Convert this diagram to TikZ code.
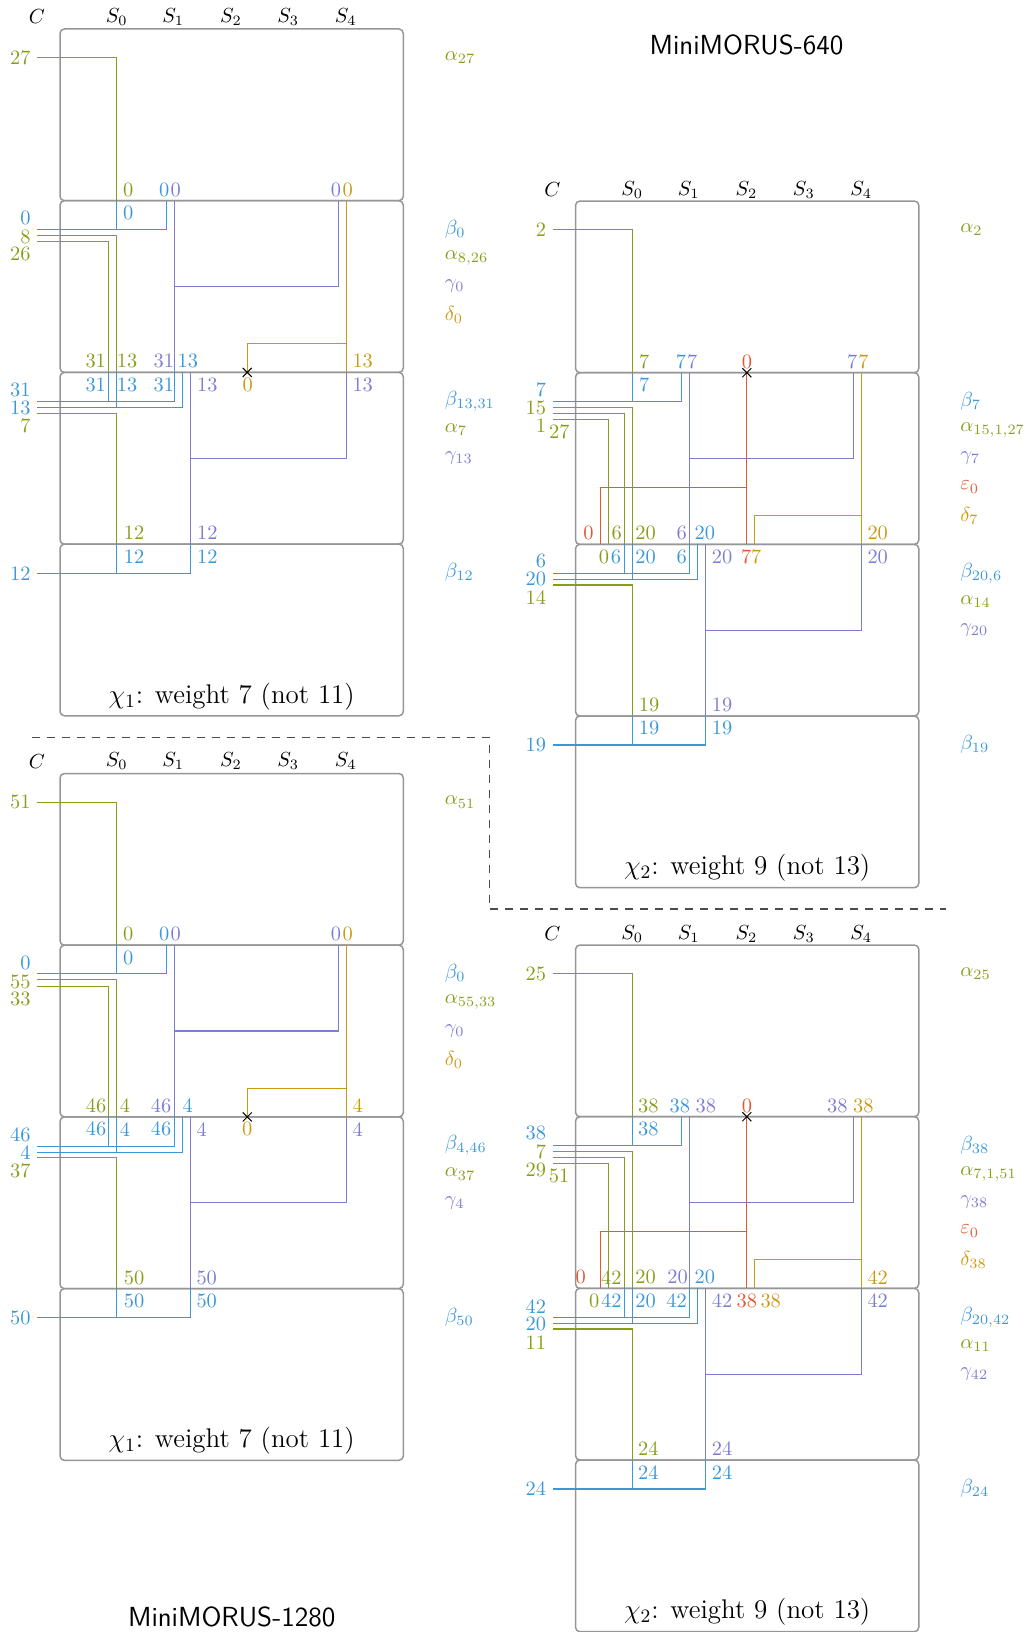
\RequirePackage{fix-cm}
\documentclass[tikz,border=0pt]{standalone}
\usepackage{fontspec}
\definecolor{ol}{RGB}{138,157,27}
\definecolor{bl}{RGB}{58,152,216}
\definecolor{pu}{RGB}{125,125,210}
\definecolor{go}{RGB}{204,153,20}
\definecolor{rd}{RGB}{224,90,50}
\definecolor{bx}{RGB}{150,150,150}
\newcommand{\TxC}[4]{\node[lab,text=#1] at (#2,#3) {#4};}
\newcommand{\TxE}[4]{\node[lab,text=#1,anchor=east] at (#2,#3) {#4};}
\newcommand{\TxW}[4]{\node[lab,text=#1,anchor=west] at (#2,#3) {#4};}
\newcommand{\LeftFrame}{%
  \foreach \yy in {29,200.7,372.4,544.1}{\draw[bxs] (60,\yy) rectangle (403.3,\yy+171.7);}
  \node[hdr] at (37,16.7) {$C$};
  \foreach \i/\xx in {0/116.7,1/173.3,2/231,3/288.3,4/345.7}{\node[hdr] at (\xx,16.7) {$S_{\i}$};}
  \draw[wire,ol] (37,57.6) -| (116.7,200.7);
  \draw[wire,ol] (37,235.3) -| (116.7,372.4);
  \draw[wire,ol] (37,241.7) -| (108.7,372.4);
  \draw[wire,ol] (37,413.3) -| (116.7,544.1);
  \draw[wire,bl] (116.7,200.7) -- (116.7,229.3) (166.3,200.7) |- (37,229.3);
  \draw[wire,bl] (108.7,372.4) -- (108.7,401.7) (174.3,372.4) |- (37,401.7);
  \draw[wire,bl] (116.7,372.4) -- (116.7,407.7) (182.3,372.4) |- (37,407.7);
  \draw[wire,bl] (116.7,544.1) -- (116.7,573.3) (190.3,544.1) |- (37,573.3);
  \draw[wire,pu] (174.3,200.7) -- (174.3,372.4) (174.3,286.5) -| (338.3,200.7);
  \draw[wire,pu] (190.3,372.4) -- (190.3,544.1) (190.3,458.2) -| (346.3,372.4);
  \draw[wire,go] (346.3,200.7) -- (346.3,372.4) (346.3,343.7) -| (247.3,372.4);
  \draw[crs] (242.8,367.9) -- (251.8,376.9) (242.8,376.9) -- (251.8,367.9);
}
\newcommand{\RightFrame}{%
  \foreach \yy in {201,372.7,544.3,716}{\draw[bxs] (575.5,\yy) rectangle (918.8,\yy+171.7);}
  \node[hdr] at (552.5,190) {$C$};
  \foreach \i/\xx in {0/632.2,1/688.8,2/746.5,3/803.8,4/861.2}{\node[hdr] at (\xx,190) {$S_{\i}$};}
  \draw[wire,ol] (552.5,229.6) -| (632.2,372.7);
  \draw[wire,ol] (552.5,407.3) -| (632.2,544.3);
  \draw[wire,ol] (552.5,413.3) -| (624.2,544.3);
  \draw[wire,ol] (552.5,419.3) -| (608.2,544.3);
  \draw[wire,ol] (552.5,585) -| (632.2,716);
  \draw[wire,bl] (632.2,372.7) -- (632.2,401.3) (681.8,372.7) |- (552.5,401.3);
  \draw[wire,bl] (624.2,544.3) -- (624.2,573.3) (689.8,544.3) |- (552.5,573.3);
  \draw[wire,bl] (632.2,544.3) -- (632.2,579.3) (697.8,544.3) |- (552.5,579.3);
  \draw[wire,bl] (632.2,716) -- (632.2,745) (705.8,716) |- (552.5,745);
  \draw[wire,pu] (689.8,372.7) -- (689.8,544.3) (689.8,458.5) -| (853.8,372.7);
  \draw[wire,pu] (705.8,544.3) -- (705.8,716) (705.8,630.1) -| (861.8,544.3);
  \draw[wire,rd] (746.8,372.7) -- (746.8,544.3) (746.8,487.1) -| (600.2,544.3);
  \draw[wire,go] (861.8,372.7) -- (861.8,544.3) (861.8,515.7) -| (754.8,544.3);
  \draw[crs] (742.3,368.2) -- (751.3,377.2) (742.3,377.2) -- (751.3,368.2);
}
\begin{document}
\begin{tikzpicture}[x=0.5pt,y=-0.5pt,
  wire/.style={line width=0.55pt},
  bxs/.style={draw=bx,line width=0.75pt,rounded corners=2.2pt},
  lab/.style={inner sep=0pt,font=\fontsize{10.2}{12}\selectfont},
  hdr/.style={inner sep=0pt,font=\fontsize{10.2}{12}\selectfont},
  captxt/.style={inner sep=0pt,anchor=base,font=\fontsize{13.5}{16}\selectfont},
  ttl/.style={inner sep=0pt,anchor=base,font=\sffamily\fontsize{13.8}{16}\selectfont},
  crs/.style={line width=0.5pt,draw=black},
  sep/.style={line width=0.55pt,draw=black!70,dash pattern=on 4pt off 3.5pt}]
\useasboundingbox (0,0) rectangle (1036,1632);

% titles and separator
\node[ttl] (t640) at (746.5,55) {MiniMORUS-640};
\node[ttl] (t1280) at (231.7,1626.7) {MiniMORUS-1280};
\draw[sep] (31.7,737.3) -- (489.3,737.3) -- (489.3,909) -- (946,909);

% ================= Panel A (top left) =================
\LeftFrame
\TxE{ol}{31}{57.8}{27}
\TxW{ol}{444.5}{57.6}{$\alpha_{27}$}
\TxC{ol}{128.3}{189.7}{0}
\TxC{bl}{164.3}{189.7}{0}
\TxC{pu}{175.7}{189.7}{0}
\TxC{pu}{336}{189.7}{0}
\TxC{go}{347.7}{189.7}{0}
\TxC{bl}{128.3}{213}{0}
\TxE{bl}{31}{218.3}{0}
\TxE{ol}{31}{237}{8}
\TxE{ol}{31}{254.2}{26}
\TxW{bl}{444.5}{229.3}{$\beta_{0}$}
\TxW{ol}{444.5}{257.9}{$\alpha_{8,26}$}
\TxW{pu}{444.5}{286.5}{$\gamma_{0}$}
\TxW{go}{444.5}{315.1}{$\delta_{0}$}
\TxC{ol}{95.7}{361.4}{31}
\TxC{ol}{127}{361.4}{13}
\TxC{pu}{163.8}{361.4}{31}
\TxC{bl}{187.8}{361.4}{13}
\TxC{go}{362.7}{361.4}{13}
\TxC{bl}{95.7}{384.7}{31}
\TxC{bl}{127}{384.7}{13}
\TxC{bl}{163.8}{384.7}{31}
\TxC{pu}{207.3}{384.7}{13}
\TxC{go}{247.7}{384.7}{0}
\TxC{pu}{362.7}{384.7}{13}
\TxE{bl}{31}{390.3}{31}
\TxE{bl}{31}{407.8}{13}
\TxE{ol}{31}{426.2}{7}
\TxW{bl}{444.5}{401}{$\beta_{13,31}$}
\TxW{ol}{444.5}{429.6}{$\alpha_{7}$}
\TxW{pu}{444.5}{458.2}{$\gamma_{13}$}
\TxC{ol}{134}{533.1}{12}
\TxC{pu}{207.3}{533.1}{12}
\TxC{bl}{134}{556.4}{12}
\TxC{bl}{207.3}{556.4}{12}
\TxE{bl}{31}{573.3}{12}
\TxW{bl}{444.5}{572.7}{$\beta_{12}$}
\node[captxt] (capA) at (231.7,703) {$\chi_1$: weight 7 (not 11)};

% ================= Panel B (bottom left) =================
\begin{scope}[shift={(0,744.5)}]
\LeftFrame
\TxE{ol}{31}{57.8}{51}
\TxW{ol}{444.5}{57.6}{$\alpha_{51}$}
\TxC{ol}{128.3}{189.7}{0}
\TxC{bl}{164.3}{189.7}{0}
\TxC{pu}{175.7}{189.7}{0}
\TxC{pu}{336}{189.7}{0}
\TxC{go}{347.7}{189.7}{0}
\TxC{bl}{128.3}{213}{0}
\TxE{bl}{31}{218.3}{0}
\TxE{ol}{31}{237}{55}
\TxE{ol}{31}{254.2}{33}
\TxW{bl}{444.5}{229.3}{$\beta_{0}$}
\TxW{ol}{444.5}{257.9}{$\alpha_{55,33}$}
\TxW{pu}{444.5}{286.5}{$\gamma_{0}$}
\TxW{go}{444.5}{315.1}{$\delta_{0}$}
\TxC{ol}{96}{361.4}{46}
\TxC{ol}{125}{361.4}{4}
\TxC{pu}{161}{361.4}{46}
\TxC{bl}{187.7}{361.4}{4}
\TxC{go}{357.7}{361.4}{4}
\TxC{bl}{96}{384.7}{46}
\TxC{bl}{125}{384.7}{4}
\TxC{bl}{161}{384.7}{46}
\TxC{pu}{201.7}{384.7}{4}
\TxC{go}{247.3}{384.7}{0}
\TxC{pu}{357.7}{384.7}{4}
\TxE{bl}{31}{390.3}{46}
\TxE{bl}{31}{407.8}{4}
\TxE{ol}{31}{426.2}{37}
\TxW{bl}{444.5}{401}{$\beta_{4,46}$}
\TxW{ol}{444.5}{429.6}{$\alpha_{37}$}
\TxW{pu}{444.5}{458.2}{$\gamma_{4}$}
\TxC{ol}{134}{533.1}{50}
\TxC{pu}{206.7}{533.1}{50}
\TxC{bl}{134}{556.4}{50}
\TxC{bl}{206.7}{556.4}{50}
\TxE{bl}{31}{573.3}{50}
\TxW{bl}{444.5}{572.7}{$\beta_{50}$}
\node[captxt] (capB) at (231.7,703) {$\chi_1$: weight 7 (not 11)};
\end{scope}

% ================= Panel C (top right) =================
\RightFrame
\TxE{ol}{546.5}{229.6}{2}
\TxW{ol}{960}{229.6}{$\alpha_{2}$}
\TxC{ol}{644.3}{361.5}{7}
\TxC{bl}{681}{361.5}{7}
\TxC{pu}{692.3}{361.5}{7}
\TxC{rd}{747}{361.5}{0}
\TxC{pu}{852.1}{361.5}{7}
\TxC{go}{863.4}{361.5}{7}
\TxC{bl}{644.3}{385}{7}
\TxE{bl}{546.5}{390}{7}
\TxE{ol}{546.5}{407.8}{15}
\TxE{ol}{546.5}{425.8}{1}
\TxC{ol}{559.4}{432}{27}
\TxW{bl}{960}{401.3}{$\beta_{7}$}
\TxW{ol}{960}{429.9}{$\alpha_{15,1,27}$}
\TxW{pu}{960}{458.5}{$\gamma_{7}$}
\TxW{rd}{960}{487.1}{$\varepsilon_{0}$}
\TxW{go}{960}{515.7}{$\delta_{7}$}
\TxC{rd}{588.5}{533.3}{0}
\TxC{ol}{616.6}{533.3}{6}
\TxC{ol}{645.6}{533.3}{20}
\TxC{pu}{681.6}{533.3}{6}
\TxC{bl}{704.9}{533.3}{20}
\TxC{go}{877.7}{533.3}{20}
\TxC{ol}{603.9}{556.6}{0}
\TxC{bl}{615.9}{556.6}{6}
\TxC{bl}{645.6}{556.6}{20}
\TxC{bl}{681.6}{556.6}{6}
\TxC{pu}{722.1}{556.6}{20}
\TxC{rd}{746.1}{556.6}{7}
\TxC{go}{756.2}{556.6}{7}
\TxC{pu}{877.7}{556.6}{20}
\TxE{bl}{546.5}{561.2}{6}
\TxE{bl}{546.5}{579.2}{20}
\TxE{ol}{546.5}{597.5}{14}
\TxW{bl}{960}{572.9}{$\beta_{20,6}$}
\TxW{ol}{960}{601.5}{$\alpha_{14}$}
\TxW{pu}{960}{630.1}{$\gamma_{20}$}
\TxC{ol}{649.1}{705}{19}
\TxC{pu}{722.1}{705}{19}
\TxC{bl}{649.1}{728.3}{19}
\TxC{bl}{722.1}{728.3}{19}
\TxE{bl}{546.5}{745}{19}
\TxW{bl}{960}{744.6}{$\beta_{19}$}
\node[captxt] (capC) at (747.2,874.5) {$\chi_2$: weight 9 (not 13)};

% ================= Panel D (bottom right) =================
\begin{scope}[shift={(0,744)}]
\RightFrame
\TxE{ol}{546.5}{229.6}{25}
\TxW{ol}{960}{229.6}{$\alpha_{25}$}
\TxC{ol}{648.4}{361.5}{38}
\TxC{bl}{679.9}{361.5}{38}
\TxC{pu}{705.9}{361.5}{38}
\TxC{rd}{747}{361.5}{0}
\TxC{pu}{837.4}{361.5}{38}
\TxC{go}{863.4}{361.5}{38}
\TxC{bl}{648.4}{385}{38}
\TxE{bl}{546.5}{389}{38}
\TxE{ol}{546.5}{407.7}{7}
\TxE{ol}{546.5}{425.7}{29}
\TxC{ol}{559.1}{432}{51}
\TxW{bl}{960}{401.3}{$\beta_{38}$}
\TxW{ol}{960}{429.9}{$\alpha_{7,1,51}$}
\TxW{pu}{960}{458.5}{$\gamma_{38}$}
\TxW{rd}{960}{487.1}{$\varepsilon_{0}$}
\TxW{go}{960}{515.7}{$\delta_{38}$}
\TxC{rd}{580.6}{533.3}{0}
\TxC{ol}{611.4}{533.3}{42}
\TxC{ol}{645.6}{533.3}{20}
\TxC{pu}{677.5}{533.3}{20}
\TxC{bl}{704.9}{533.3}{20}
\TxC{go}{877.7}{533.3}{42}
\TxC{ol}{594.3}{556.6}{0}
\TxC{bl}{611.4}{556.6}{42}
\TxC{bl}{645.6}{556.6}{20}
\TxC{bl}{676.5}{556.6}{42}
\TxC{pu}{722.1}{556.6}{42}
\TxC{rd}{746.8}{556.6}{38}
\TxC{go}{770.7}{556.6}{38}
\TxC{pu}{877.7}{556.6}{42}
\TxE{bl}{546.5}{562.2}{42}
\TxE{bl}{546.5}{580.2}{20}
\TxE{ol}{546.5}{598.5}{11}
\TxW{bl}{960}{572.9}{$\beta_{20,42}$}
\TxW{ol}{960}{601.5}{$\alpha_{11}$}
\TxW{pu}{960}{630.1}{$\gamma_{42}$}
\TxC{ol}{648.4}{705}{24}
\TxC{pu}{722.1}{705}{24}
\TxC{bl}{648.4}{728.3}{24}
\TxC{bl}{722.1}{728.3}{24}
\TxE{bl}{546.5}{745}{24}
\TxW{bl}{960}{744.6}{$\beta_{24}$}
\node[captxt] (capD) at (747.2,874.5) {$\chi_2$: weight 9 (not 13)};
\end{scope}
\end{tikzpicture}
\end{document}
